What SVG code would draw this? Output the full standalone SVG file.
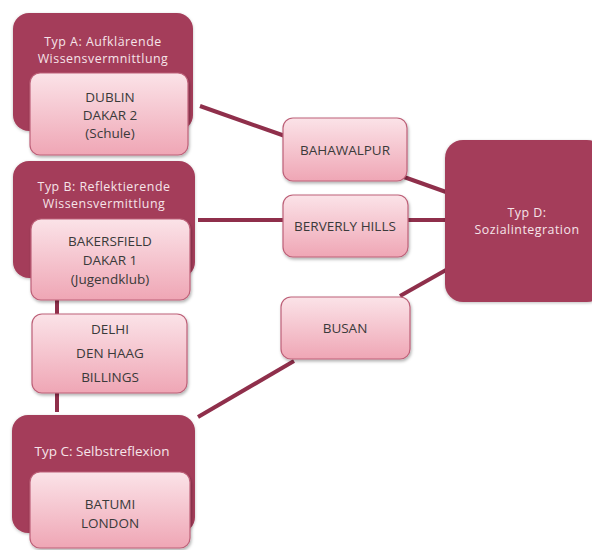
<svg xmlns="http://www.w3.org/2000/svg" width="592" height="550" viewBox="0 0 592 550">
<defs>
<linearGradient id="pg" x1="0" y1="0" x2="0" y2="1">
<stop offset="0" stop-color="#fbe3e8"/>
<stop offset="1" stop-color="#efa6b5"/>
</linearGradient>
<filter id="sh" x="-10%" y="-10%" width="125%" height="130%">
<feDropShadow dx="1" dy="2" stdDeviation="1.5" flood-color="#000" flood-opacity="0.3"/>
</filter>
<filter id="sh2" x="-10%" y="-10%" width="125%" height="130%">
<feDropShadow dx="0" dy="1" stdDeviation="1.5" flood-color="#000" flood-opacity="0.25"/>
</filter>
</defs>
<style>
.dark{fill:#a43e5a;filter:url(#sh2)}
.pink{fill:url(#pg);stroke:#bd6078;stroke-width:1.2;filter:url(#sh)}
.tw{font-family:"Open Sans","Liberation Sans",sans-serif;font-size:13.5px;fill:#f6e4e9;text-anchor:middle}
.t2{font-size:12.4px;letter-spacing:0.5px}
.td{font-family:"Open Sans","Liberation Sans",sans-serif;font-size:13.5px;fill:#3a3a3a;text-anchor:middle}
.ln{stroke:#8f2f4b;stroke-width:4;fill:none}
</style>
<rect width="592" height="550" fill="#fff"/>
<g id="connectors">
<line class="ln" x1="200" y1="106" x2="285" y2="136"/>
<line class="ln" x1="404" y1="177" x2="446" y2="192"/>
<line class="ln" x1="198" y1="220" x2="285" y2="220"/>
<line class="ln" x1="407" y1="220" x2="446" y2="220"/>
<line class="ln" x1="446" y1="270" x2="400" y2="296"/>
<line class="ln" x1="294" y1="361" x2="198" y2="417"/>
<line class="ln" x1="57" y1="298" x2="57" y2="316"/>
<line class="ln" x1="57" y1="392" x2="57" y2="412"/>
</g>
<g id="typA">
<rect class="dark" x="13" y="13" width="180" height="118" rx="16"/>
<text class="tw t2" x="103" y="46">Typ A: Aufklärende</text>
<text class="tw t2" x="103" y="63">Wissensvermnittlung</text>
</g>
<g id="dublin">
<rect class="pink" x="30" y="73" width="158" height="82" rx="10"/>
<text class="td" x="110" y="102">DUBLIN</text>
<text class="td" x="110" y="120">DAKAR 2</text>
<text class="td" x="110" y="138">(Schule)</text>
</g>
<g id="typB">
<rect class="dark" x="13" y="161" width="182" height="117" rx="16"/>
<text class="tw t2" x="104" y="191">Typ B: Reflektierende</text>
<text class="tw t2" x="104" y="208">Wissensvermittlung</text>
</g>
<g id="bakersfield">
<rect class="pink" x="31" y="219" width="159" height="81" rx="10"/>
<text class="td" x="110" y="246">BAKERSFIELD</text>
<text class="td" x="110" y="265">DAKAR 1</text>
<text class="td" x="110" y="284">(Jugendklub)</text>
</g>
<g id="delhi">
<rect class="pink" x="32" y="314" width="155" height="79" rx="10"/>
<text class="td" x="110" y="334">DELHI</text>
<text class="td" x="110" y="358">DEN HAAG</text>
<text class="td" x="110" y="382">BILLINGS</text>
</g>
<g id="typC">
<rect class="dark" x="12" y="415" width="183" height="118" rx="16"/>
<text class="tw" x="102" y="456">Typ C: Selbstreflexion</text>
</g>
<g id="batumi">
<rect class="pink" x="30" y="472" width="160" height="76" rx="10"/>
<text class="td" x="110" y="509">BATUMI</text>
<text class="td" x="110" y="528">LONDON</text>
</g>
<g id="bahawalpur">
<rect class="pink" x="283" y="118" width="124" height="63" rx="10"/>
<text class="td" x="345" y="155">BAHAWALPUR</text>
</g>
<g id="beverly">
<rect class="pink" x="283" y="195" width="125" height="62" rx="10"/>
<text class="td" x="345" y="231">BERVERLY HILLS</text>
</g>
<g id="busan">
<rect class="pink" x="281" y="297" width="129" height="62" rx="10"/>
<text class="td" x="345" y="333">BUSAN</text>
</g>
<g id="typD">
<rect class="dark" x="445" y="140" width="160" height="162" rx="18"/>
<text class="tw t2" x="527" y="217">Typ D:</text>
<text class="tw t2" x="527" y="234">Sozialintegration</text>
</g>
</svg>
